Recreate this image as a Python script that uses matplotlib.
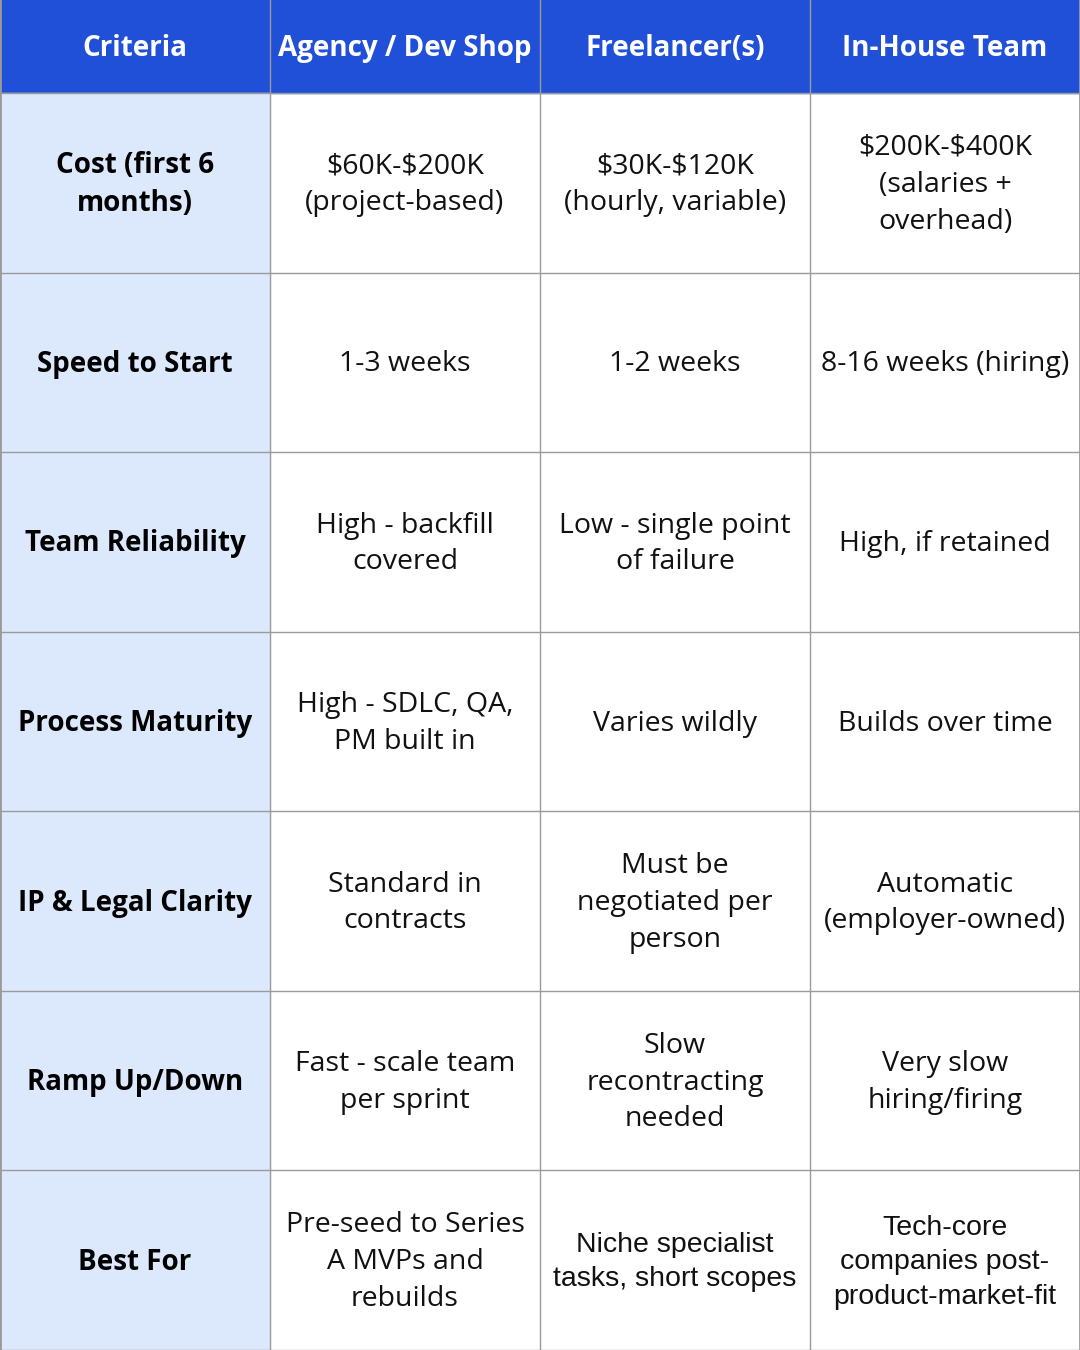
import matplotlib.pyplot as plt
from matplotlib.patches import Rectangle

plt.rcParams["text.parse_math"] = False

headers = ["Criteria", "Agency / Dev Shop", "Freelancer(s)", "In-House Team"]
criteria = ["Cost (first 6\nmonths)", "Speed to Start", "Team Reliability",
            "Process Maturity", "IP & Legal Clarity", "Ramp Up/Down", "Best For"]
agency = ["$60K-$200K\n(project-based)", "1-3 weeks", "High - backfill\ncovered",
          "High - SDLC, QA,\nPM built in", "Standard in\ncontracts",
          "Fast - scale team\nper sprint", "Pre-seed to Series\nA MVPs and\nrebuilds"]
freelancer = ["$30K-$120K\n(hourly, variable)", "1-2 weeks", "Low - single point\nof failure",
              "Varies wildly", "Must be\nnegotiated per\nperson",
              "Slow\nrecontracting\nneeded", "Niche specialist\ntasks, short scopes"]
inhouse = ["$200K-$400K\n(salaries +\noverhead)", "8-16 weeks (hiring)", "High, if retained",
           "Builds over time", "Automatic\n(employer-owned)",
           "Very slow\nhiring/firing", "Tech-core\ncompanies post-\nproduct-market-fit"]

W, H = 1080, 1350
header_h = 93
row_h = (H - header_h) / len(criteria)
col_w = W / 4

fig = plt.figure(figsize=(10.8, 13.5), dpi=100)
ax = fig.add_axes([0, 0, 1, 1])
ax.set_xlim(0, W)
ax.set_ylim(H, 0)
ax.axis("off")

blue = "#2150D8"
light = "#DCE9FD"
grid = "#9A9A9A"

ax.add_patch(Rectangle((0, 0), W, header_h, color=blue))
for j, h in enumerate(headers):
    ax.text(col_w * (j + 0.5), header_h / 2 + 2, h, ha="center", va="center",
            color="white", fontsize=20, fontweight="bold", family="Open Sans")

columns = [criteria, agency, freelancer, inhouse]
for i in range(len(criteria)):
    y0 = header_h + i * row_h
    ax.add_patch(Rectangle((0, y0), col_w, row_h, color=light))
    for j, col in enumerate(columns):
        fam = "Open Sans"
        size = 20.5 if j > 0 else 20
        if i == len(criteria) - 1 and j >= 2:
            fam = "Liberation Sans"
        ax.text(col_w * (j + 0.5), y0 + row_h / 2 + 2, col[i], ha="center", va="center",
                fontsize=size, fontweight="bold" if j == 0 else "normal",
                family=fam, color="black" if j == 0 else "#111111",
                linespacing=1.42)

for i in range(len(criteria) + 1):
    y = header_h + i * row_h
    ax.plot([0, W], [y, y], color=grid, lw=1)
for j in range(1, 4):
    ax.plot([col_w * j, col_w * j], [0, H], color=grid, lw=1)
ax.plot([0, 0], [0, H], color=grid, lw=2)
ax.plot([W, W], [0, H], color=grid, lw=2)

fig.savefig("out.png", dpi=100)
